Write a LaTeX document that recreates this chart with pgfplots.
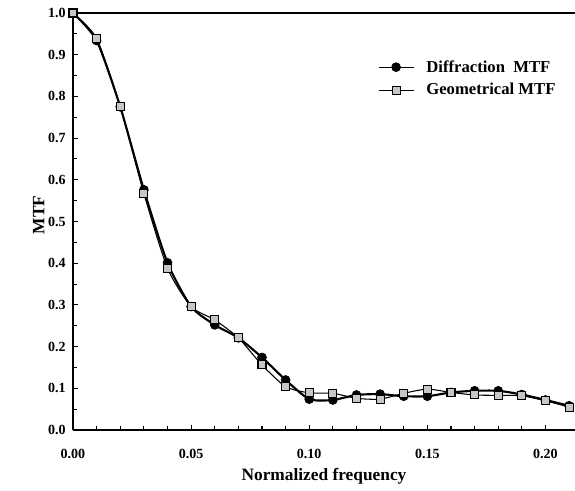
\documentclass[border=0pt]{standalone}
\usepackage{fontspec}
\setmainfont{Liberation Serif}
\usepackage{pgfplots}
\pgfplotsset{compat=1.18}

\begin{document}
\begin{tikzpicture}
\begin{axis}[
  name=ax,
  scale only axis,
  width=376.5pt, height=312.75pt,
  xmin=0, xmax=0.2125,
  ymin=0, ymax=1.0,
  axis x line*=bottom,
  axis y line*=left,
  xtick={0,0.05,0.10,0.15,0.20},
  xticklabels={0.00,0.05,0.10,0.15,0.20},
  ytick={0,0.1,...,1.0},
  yticklabels={0.0,0.1,0.2,0.3,0.4,0.5,0.6,0.7,0.8,0.9,1.0},
  minor x tick num=4,
  minor y tick num=1,
  tick align=inside,
  major tick length=4pt,
  minor tick length=3pt,
  tick style={black, line width=0.8pt},
  axis line style={line width=1pt, -},
  tick label style={font=\bfseries\fontsize{10.5}{12}\selectfont},
  xticklabel style={yshift=-11pt},
  yticklabel style={xshift=-2pt},
  xlabel={\bfseries Normalized frequency},
  ylabel={\bfseries MTF},
  label style={font=\bfseries\fontsize{13}{15}\selectfont},
  xlabel style={yshift=-0.5pt},
  ylabel style={yshift=-4pt, xshift=5pt},
  legend style={at={(0.6,0.9)}, anchor=north west, draw=none, fill=none,
    font=\bfseries\fontsize{12.5}{14}\selectfont, row sep=3pt},
  legend cell align=left,
  legend image code/.code={%
    \draw[#1, line width=0.8pt, mark repeat=2, mark phase=2]
      plot coordinates {(0cm,0cm) (0.45cm,0cm) (0.9cm,0cm)};
    \path (1.15cm,0cm);},
  clip=false,
]
\addplot[black, line width=1.6pt, smooth, tension=0.4,
  mark=*, mark size=3.3pt, mark options={fill=black, line width=0.6pt}]
  coordinates {
    (0.00,1.000) (0.01,0.934) (0.02,0.775) (0.03,0.576) (0.04,0.401)
    (0.05,0.296) (0.06,0.252) (0.07,0.221) (0.08,0.174) (0.09,0.120)
    (0.10,0.074) (0.11,0.072) (0.12,0.084) (0.13,0.086) (0.14,0.081)
    (0.15,0.081) (0.16,0.090) (0.17,0.094) (0.18,0.094) (0.19,0.085)
    (0.20,0.072) (0.21,0.058)
  };
\addlegendentry{Diffraction~~MTF}
\addplot[black, line width=0.8pt, smooth, tension=0.4,
  mark=square*, mark size=3pt, mark options={fill=gray!45, draw=black, line width=0.8pt}]
  coordinates {
    (0.00,1.000) (0.01,0.939) (0.02,0.775) (0.03,0.567) (0.04,0.388)
    (0.05,0.296) (0.06,0.264) (0.07,0.221) (0.08,0.156) (0.09,0.104)
    (0.10,0.089) (0.11,0.088) (0.12,0.076) (0.13,0.074) (0.14,0.088)
    (0.15,0.098) (0.16,0.090) (0.17,0.084) (0.18,0.083) (0.19,0.082)
    (0.20,0.070) (0.21,0.055)
  };
\addlegendentry{Geometrical MTF}
\draw[line width=1pt] (rel axis cs:0,1) -- (rel axis cs:1,1);
\end{axis}
\pgfresetboundingbox
\useasboundingbox ([shift={(-54.75pt,-45.75pt)}]ax.south west)
  rectangle ([shift={(0pt,9.75pt)}]ax.north east);
\end{tikzpicture}
\end{document}
